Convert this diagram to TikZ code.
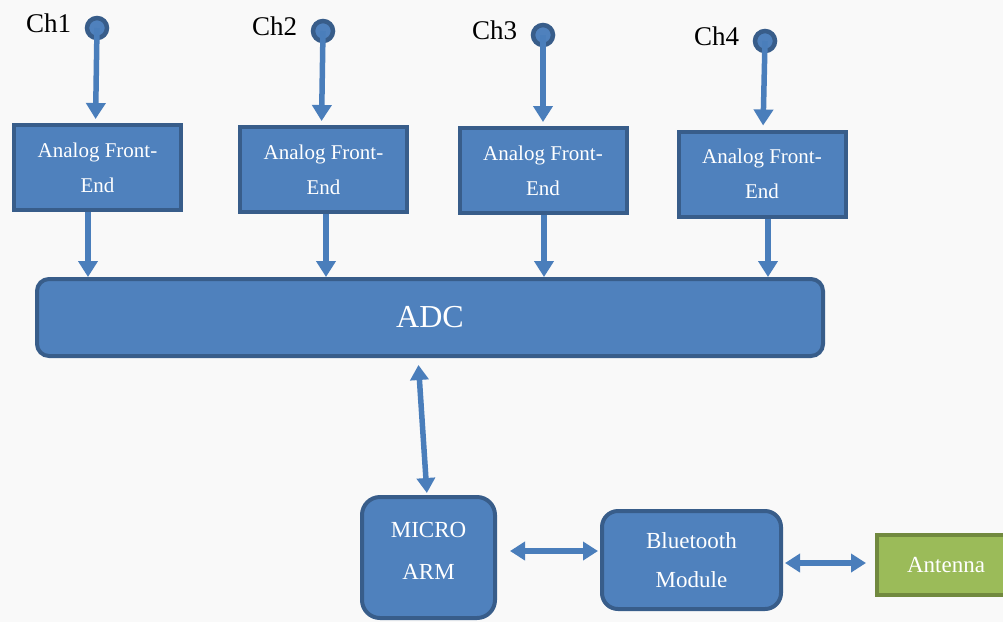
\documentclass[tikz,border=0pt]{standalone}
\usepackage{fontspec}
\setmainfont{Liberation Serif}
\usetikzlibrary{arrows.meta}
\definecolor{boxfill}{HTML}{4F81BD}
\definecolor{boxline}{HTML}{385D8A}
\definecolor{arrowcol}{HTML}{4A7EBB}
\definecolor{antfill}{HTML}{9BBB59}
\definecolor{antline}{HTML}{71893F}

\begin{document}
\begin{tikzpicture}[x=1pt, y=-1pt,
	blockbox/.style={rectangle, fill=boxfill, draw=boxline, line width=4pt, text=white, align=center, inner sep=0pt},
	afebox/.style={blockbox, minimum width=167pt, minimum height=85pt, font=\fontsize{21}{35}\selectfont},
	chpin/.style={circle, fill=boxfill, draw=boxline, line width=4.5pt, minimum size=20pt, inner sep=0pt},
	chlabel/.style={label={[font=\fontsize{27}{30}\selectfont, label distance=10pt, yshift=5pt]left:#1}},
	arr/.style={draw=arrowcol, line width=5.5pt, -{Triangle[width=19pt, length=16pt]}},
	dblarr/.style={draw=arrowcol, line width=5.5pt, {Triangle[width=18pt, length=15pt]}-{Triangle[width=18pt, length=15pt]}}]
	\fill[gray!5] (0,0) rectangle (1003,622);
	\useasboundingbox (0,0) rectangle (1003,622);
	% channel inputs
	\node[chpin, chlabel=Ch1] (ch1) at (97,28) {};
	\node[chpin, chlabel=Ch2] (ch2) at (323,31) {};
	\node[chpin, chlabel=Ch3] (ch3) at (543,35) {};
	\node[chpin, chlabel=Ch4] (ch4) at (765,41) {};
	% front ends
	\node[afebox] (afe1) at (97.5,167.5) {Analog Front-\\End};
	\node[afebox] (afe2) at (323.5,169.5) {Analog Front-\\End};
	\node[afebox] (afe3) at (543,170.5) {Analog Front-\\End};
	\node[afebox] (afe4) at (762,174) {Analog Front-\\End};
	\node[blockbox, rounded corners=12pt, minimum width=786pt, minimum height=77pt, font=\fontsize{32}{36}\selectfont] (adc) at (430,317.5) {ADC};
	\node[blockbox, rounded corners=18pt, minimum width=133pt, minimum height=121pt,
		label={[text=white, align=center, yshift=7pt, font=\fontsize{23}{42}\selectfont]center:MICRO\\ARM}] (micro) at (428.5,557.5) {};
	\node[blockbox, rounded corners=16pt, minimum width=179pt, minimum height=98pt, font=\fontsize{23}{39}\selectfont] (bt) at (691.5,560) {Bluetooth\\Module};
	\node[blockbox, fill=antfill, draw=antline, minimum width=130pt, minimum height=60pt, font=\fontsize{23}{26}\selectfont] (ant) at (942,565) {\hspace*{8pt}Antenna};
	% connections
	\draw[arr, shorten >=4pt] (ch1.center) -- ([xshift=-2pt]afe1.north);
	\draw[arr, shorten >=4pt] (ch2.center) -- ([xshift=-2pt]afe2.north);
	\draw[arr, shorten >=4pt] (ch3.center) -- (afe3.north);
	\draw[arr, shorten >=4pt] (ch4.center) -- ([xshift=1pt]afe4.north);
	\draw[arr] ([xshift=-9.5pt]afe1.south) -- ([xshift=-9.5pt]afe1.south |- adc.north);
	\draw[arr] ([xshift=2.5pt]afe2.south) -- ([xshift=2.5pt]afe2.south |- adc.north);
	\draw[arr] ([xshift=1pt]afe3.south) -- ([xshift=1pt]afe3.south |- adc.north);
	\draw[arr] ([xshift=6pt]afe4.south) -- ([xshift=6pt]afe4.south |- adc.north);
	\draw[dblarr, shorten <=7pt, shorten >=2pt] ([xshift=-12pt]adc.south) -- ([xshift=-1.5pt]micro.north);
	\draw[dblarr] ([shift={(13,-6.5)}]micro.east) -- ([shift={(-2,-9)}]bt.west);
	\draw[dblarr] ([shift={(2,3)}]bt.east) -- ([shift={(-9,-2)}]ant.west);
\end{tikzpicture}
\end{document}
